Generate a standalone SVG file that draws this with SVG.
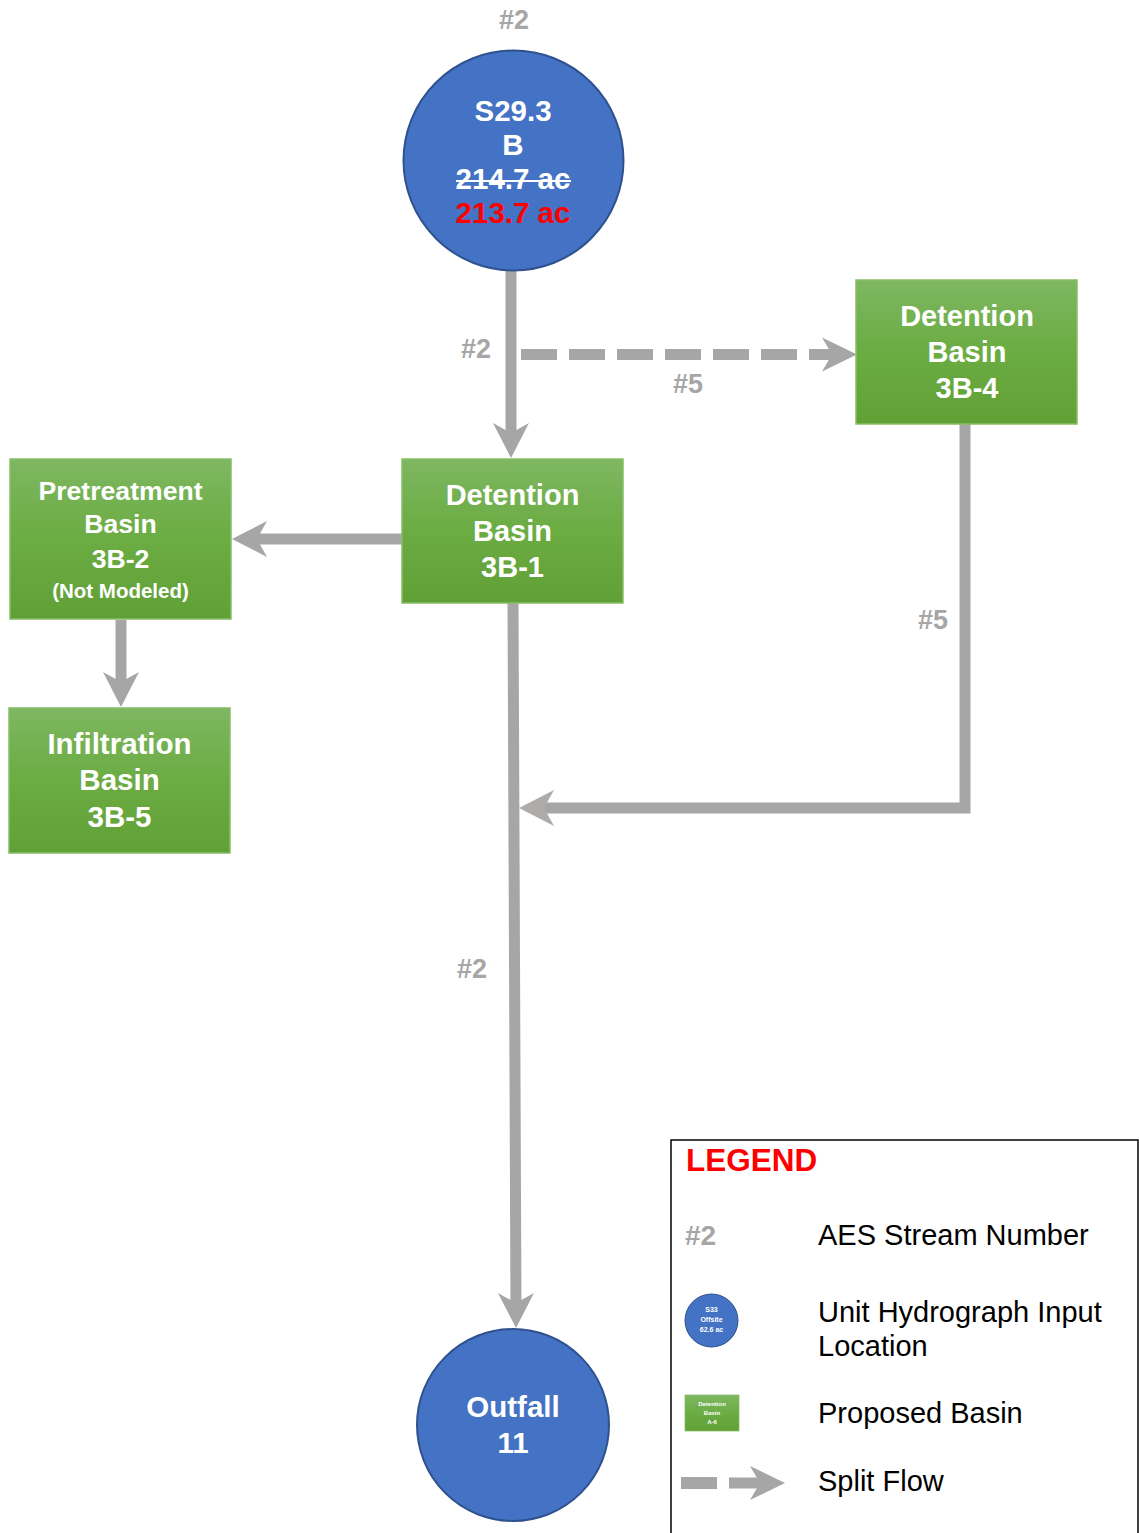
<svg xmlns="http://www.w3.org/2000/svg" width="1139" height="1533" viewBox="0 0 1139 1533">
<defs>
<linearGradient id="gr" x1="0" y1="0" x2="0" y2="1">
<stop offset="0" stop-color="#7EB761"/>
<stop offset="0.5" stop-color="#6BAC43"/>
<stop offset="1" stop-color="#61A035"/>
</linearGradient>
<marker id="ah" markerUnits="userSpaceOnUse" viewBox="-25 -20 45 40" markerWidth="45" markerHeight="40" refX="0" refY="0" orient="auto">
<path d="M15,0 L-20,-18 L-10,0 L-20,18 Z" fill="#A6A6A6"/>
</marker>
<marker id="ah2" markerUnits="userSpaceOnUse" viewBox="-25 -20 45 40" markerWidth="45" markerHeight="40" refX="0" refY="0" orient="auto">
<path d="M15,0 L-20,-18 L-10,0 L-20,18 Z" fill="#AEABAB"/>
</marker>
<marker id="ahs" markerUnits="userSpaceOnUse" viewBox="-25 -20 45 40" markerWidth="45" markerHeight="40" refX="0" refY="0" orient="auto">
<path d="M15,0 L-20,-17 L-10,0 L-20,17 Z" fill="#A6A6A6"/>
</marker>
</defs>
<style>
.circ{fill:#4472C4;stroke:#2F528F;stroke-width:2}
.box{fill:url(#gr);stroke:#86BD67;stroke-width:1.5}
.wt{font-family:"Liberation Sans",Arial,sans-serif;font-weight:bold;fill:#FFFFFF;text-anchor:middle}
.lbl{font-family:"Liberation Sans",Arial,sans-serif;font-weight:bold;fill:#A6A6A6;font-size:27px;text-anchor:middle}
.leg{font-family:"Liberation Sans",Arial,sans-serif;fill:#000000;font-size:29px}
.ln{fill:none;stroke:#A6A6A6;stroke-width:11}
</style>

<g id="connectors">
<line class="ln" x1="511" y1="271" x2="511" y2="443" marker-end="url(#ah)"/>
<line class="ln" x1="521" y1="354.5" x2="842" y2="354.5" stroke-width="12" stroke-dasharray="36 12" marker-end="url(#ahs)"/>
<line class="ln" x1="402" y1="539" x2="247" y2="539" marker-end="url(#ah)"/>
<line class="ln" x1="121" y1="620" x2="121" y2="692" marker-end="url(#ah)"/>
<line class="ln" x1="513" y1="603" x2="516" y2="1313" marker-end="url(#ah)"/>
<polyline class="ln" points="965,424 965,808 534,808" stroke="#AEABAB" marker-end="url(#ah2)"/>
</g>

<g id="labels">
<text class="lbl" x="514" y="29">#2</text>
<text class="lbl" x="476" y="358">#2</text>
<text class="lbl" x="688" y="393">#5</text>
<text class="lbl" x="933" y="629">#5</text>
<text class="lbl" x="472" y="978">#2</text>
</g>

<g id="node-s293">
<circle class="circ" cx="513.5" cy="160.5" r="110"/>
<text class="wt" x="513" y="121" font-size="29.5">S29.3</text>
<text class="wt" x="513" y="155" font-size="29.5">B</text>
<text class="wt" x="513" y="189" font-size="29.5">214.7 ac</text>
<line x1="456" y1="181" x2="571" y2="181" stroke="#FFFFFF" stroke-width="2"/>
<text class="wt" x="513" y="223" font-size="29.5" style="fill:#FF0000">213.7 ac</text>
</g>

<g id="node-3b4">
<rect class="box" x="856" y="280" width="221" height="144"/>
<text class="wt" x="967" y="326" font-size="29">Detention</text>
<text class="wt" x="967" y="362" font-size="29">Basin</text>
<text class="wt" x="967" y="398" font-size="29">3B-4</text>
</g>

<g id="node-3b1">
<rect class="box" x="402" y="459" width="221" height="144"/>
<text class="wt" x="512.5" y="505" font-size="29">Detention</text>
<text class="wt" x="512.5" y="541" font-size="29">Basin</text>
<text class="wt" x="512.5" y="577" font-size="29">3B-1</text>
</g>

<g id="node-3b2">
<rect class="box" x="10" y="459" width="221" height="160"/>
<text class="wt" x="120.5" y="500" font-size="26.6">Pretreatment</text>
<text class="wt" x="120.5" y="533" font-size="26.6">Basin</text>
<text class="wt" x="120.5" y="568" font-size="26.6">3B-2</text>
<text class="wt" x="120.5" y="598" font-size="20.5">(Not Modeled)</text>
</g>

<g id="node-3b5">
<rect class="box" x="9" y="708" width="221" height="145"/>
<text class="wt" x="119.5" y="754" font-size="29.5">Infiltration</text>
<text class="wt" x="119.5" y="790" font-size="29.5">Basin</text>
<text class="wt" x="119.5" y="827" font-size="29.5">3B-5</text>
</g>

<g id="node-outfall">
<circle class="circ" cx="513" cy="1425" r="96"/>
<text class="wt" x="513" y="1417" font-size="29.5">Outfall</text>
<text class="wt" x="513" y="1453" font-size="29.5">11</text>
</g>

<g id="legend">
<rect x="671" y="1140" width="467" height="400" fill="#FFFFFF" stroke="#000000" stroke-width="1.5"/>
<text x="686" y="1171" font-family="'Liberation Sans',Arial,sans-serif" font-weight="bold" font-size="31.5" fill="#FF0000">LEGEND</text>
<text x="685" y="1245" font-family="'Liberation Sans',Arial,sans-serif" font-weight="bold" font-size="28" fill="#A6A6A6">#2</text>
<text class="leg" x="818" y="1245">AES Stream Number</text>
<circle class="circ" cx="711.5" cy="1320.5" r="26.5" style="stroke-width:1"/>
<text class="wt" x="711.5" y="1312" font-size="7">S33</text>
<text class="wt" x="711.5" y="1322" font-size="7">Offsite</text>
<text class="wt" x="711.5" y="1332" font-size="7">62.6 ac</text>
<text class="leg" x="818" y="1322">Unit Hydrograph Input</text>
<text class="leg" x="818" y="1356">Location</text>
<rect class="box" x="685" y="1395" width="54" height="36" style="stroke-width:0.75"/>
<text class="wt" x="712" y="1406" font-size="6">Detention</text>
<text class="wt" x="712" y="1415" font-size="6">Basin</text>
<text class="wt" x="712" y="1424" font-size="6">A-6</text>
<text class="leg" x="818" y="1423">Proposed Basin</text>
<rect x="681" y="1477" width="36" height="12" fill="#A6A6A6"/>
<line class="ln" x1="729" y1="1483" x2="770" y2="1483" stroke-width="12" marker-end="url(#ahs)"/>
<text class="leg" x="818" y="1491">Split Flow</text>
</g>
</svg>
